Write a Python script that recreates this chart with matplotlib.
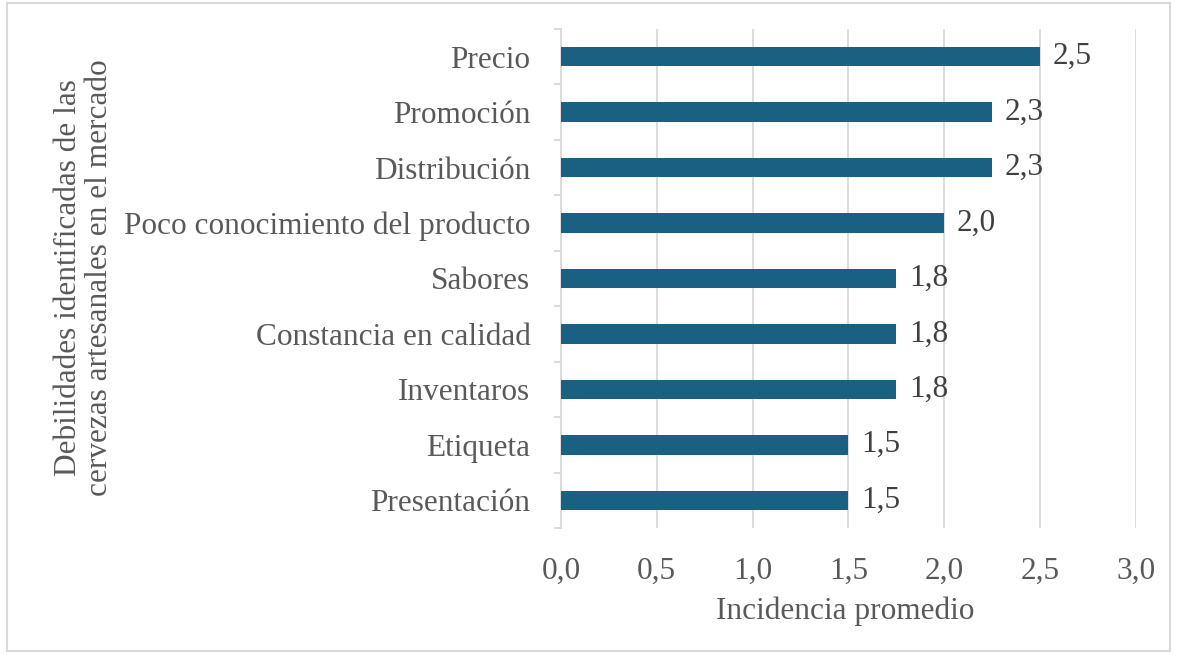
from decimal import Decimal, ROUND_HALF_UP

import matplotlib
matplotlib.use('Agg')
import matplotlib.pyplot as plt
from matplotlib.patches import Rectangle
from matplotlib.ticker import MultipleLocator, FuncFormatter

# Debilidades y su incidencia promedio (de abajo hacia arriba)
categorias = ['Presentación', 'Etiqueta', 'Inventaros', 'Constancia en calidad',
              'Sabores', 'Poco conocimiento del producto', 'Distribución',
              'Promoción', 'Precio']
incidencia = [1.5, 1.5, 1.75, 1.75, 1.75, 2.0, 2.25, 2.25, 2.5]

color_barra = '#1A6082'
color_texto = '#595959'
color_grid = '#D9D9D9'
fs = 22.5

plt.rcParams['font.family'] = ['Liberation Serif', 'DejaVu Serif']


def coma(v, dec=1):
    # redondeo tipo Excel con coma decimal
    q = Decimal(str(v)).quantize(Decimal('1.' + '0' * dec), rounding=ROUND_HALF_UP)
    return str(q).replace('.', ',')


fig = plt.figure(figsize=(11.77, 6.54), dpi=100)
ax = fig.add_axes([0.4766, 0.1927, 0.4886, 0.7630])

y = list(range(len(categorias)))
ax.barh(y, incidencia, height=0.35, color=color_barra, zorder=3)

for yi, v in zip(y, incidencia):
    ax.annotate(coma(v), (v, yi), xytext=(9, 0), textcoords='offset points',
                ha='left', va='center', fontsize=fs, color='#404040')

ax.set_xlim(0, 3.0)
ax.set_ylim(-0.5, len(categorias) - 0.5)
ax.xaxis.set_major_locator(MultipleLocator(0.5))
ax.xaxis.set_major_formatter(FuncFormatter(lambda v, p: coma(v)))
ax.grid(axis='x', color=color_grid, linewidth=1.3, zorder=0)

ax.set_yticks(y)
ax.set_yticklabels(categorias)
ax.set_yticks([i - 0.5 for i in range(len(categorias) + 1)], minor=True)
ax.tick_params(axis='y', which='major', length=0, pad=22, labelsize=fs,
               labelcolor=color_texto)
ax.tick_params(axis='y', which='minor', length=5, color=color_grid, width=1.3)
ax.tick_params(axis='x', length=0, pad=21, labelsize=fs, labelcolor=color_texto)

for lado in ['top', 'right', 'bottom']:
    ax.spines[lado].set_visible(False)
ax.spines['left'].set_color(color_grid)
ax.spines['left'].set_linewidth(1.3)

ax.set_xlabel('Incidencia promedio', fontsize=fs, color=color_texto)
ax.xaxis.set_label_coords(0.494, -0.138)
ax.set_ylabel('Debilidades identificadas de las\ncervezas artesanales en el mercado',
              fontsize=fs, color=color_texto, linespacing=1.05)
ax.yaxis.set_label_coords(-0.778, 0.501)

# marco exterior
fig.patches.append(Rectangle((7 / 1177, 3 / 654), 1163 / 1177, 648 / 654,
                             transform=fig.transFigure, fill=False,
                             edgecolor='#D9D9D9', linewidth=1.5))

fig.savefig('out.png', dpi=100)
